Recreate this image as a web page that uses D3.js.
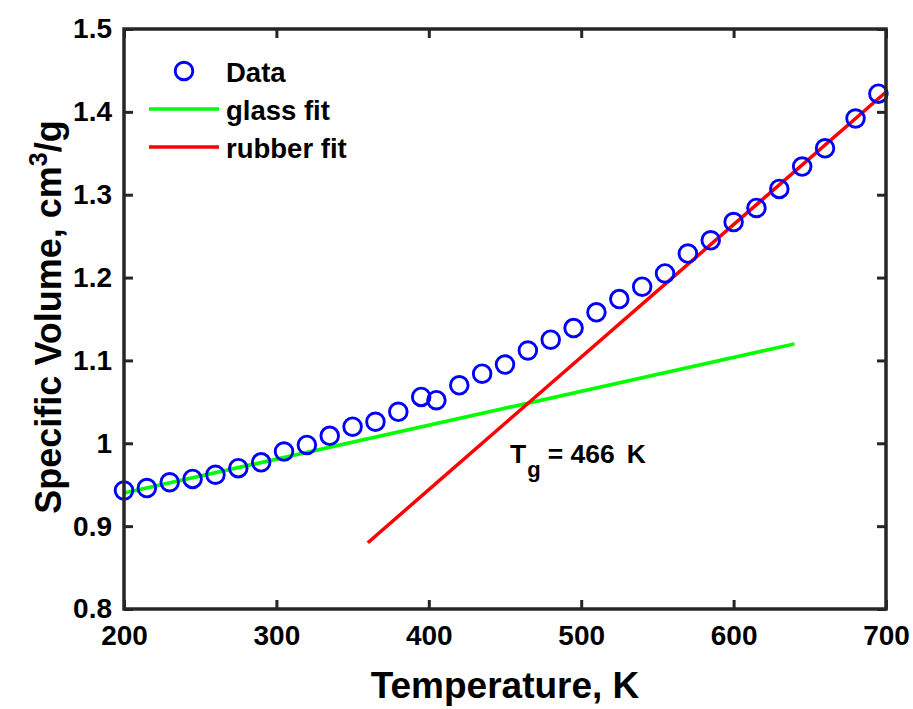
<!DOCTYPE html>
<html>
<head>
<meta charset="utf-8">
<script src="https://cdn.jsdelivr.net/npm/d3@7"></script>
<style>
  html, body { margin: 0; padding: 0; background: #fff; }
  text { font-family: "Liberation Sans", Arial, Helvetica, sans-serif; font-weight: bold; fill: #000; }
</style>
</head>
<body>
<svg id="chart" width="913" height="709"></svg>
<script>
// ---- data ----
const temperature = [200,215,230,245,260,275,290,305,320,335,350,365,380,395,405,420,435,450,465,480,495,510,525,540,555,570,585,600,615,630,645,660,680,695];
const specificVolume = [0.943,0.946,0.953,0.957,0.962,0.970,0.977,0.990,0.998,1.009,1.020,1.026,1.038,1.056,1.052,1.070,1.084,1.095,1.112,1.125,1.139,1.158,1.174,1.189,1.205,1.229,1.245,1.267,1.284,1.307,1.334,1.356,1.392,1.422];
const glassFitT = [200, 640];
const glassFitV = [0.940, 1.120];
const rubberFitT = [360, 700];
const rubberFitV = [0.880, 1.424];
const xTicks = [200, 300, 400, 500, 600, 700];
const yTicks = [0.8, 0.9, 1.0, 1.1, 1.2, 1.3, 1.4, 1.5];
const legendLabels = ["Data", "glass fit", "rubber fit"];
const tgValue = 466;

// ---- layout ----
const svg = d3.select("#chart");
const L = 124, R = 886, T = 29, B = 609;
const x = d3.scaleLinear().domain([200, 700]).range([L, R]);
const y = d3.scaleLinear().domain([0.8, 1.5]).range([B, T]);
const axisColor = "#262626";
const tickLen = 9;

// fit lines
const line = d3.line().x(d => x(d[0])).y(d => y(d[1]));
svg.append("path")
  .attr("d", line(glassFitT.map((t, i) => [t, glassFitV[i]])))
  .attr("stroke", "#00ff00").attr("stroke-width", 3.5).attr("fill", "none");
svg.append("path")
  .attr("d", line(rubberFitT.map((t, i) => [t, rubberFitV[i]])))
  .attr("stroke", "#ff0000").attr("stroke-width", 3.5).attr("fill", "none");

// data markers
svg.append("g").selectAll("circle")
  .data(temperature.map((t, i) => [t, specificVolume[i]]))
  .join("circle")
  .attr("cx", d => x(d[0])).attr("cy", d => y(d[1]))
  .attr("r", 8.8).attr("fill", "none")
  .attr("stroke", "#0000ff").attr("stroke-width", 2.9);

// axes (box with inward ticks on all sides)
const axB = d3.axisBottom(x).tickValues(xTicks).tickSizeInner(-tickLen).tickSizeOuter(0).tickPadding(16).tickFormat(d3.format("d"));
const axT = d3.axisTop(x).tickValues(xTicks).tickSizeInner(-tickLen).tickSizeOuter(0).tickFormat("");
const axL = d3.axisLeft(y).tickValues(yTicks).tickSizeInner(-tickLen).tickSizeOuter(0).tickPadding(12).tickFormat(d => d === 1 ? "1" : d3.format(".1f")(d));
const axR = d3.axisRight(y).tickValues(yTicks).tickSizeInner(-tickLen).tickSizeOuter(0).tickFormat("");

function styleAxis(g) {
  g.selectAll("path.domain").remove();
  g.selectAll(".tick line").attr("stroke", axisColor).attr("stroke-width", 3);
  g.selectAll(".tick text").attr("fill", "#000").attr("font-size", 28)
    .attr("font-family", "'Liberation Sans', Arial, sans-serif").attr("font-weight", "bold");
}
svg.append("g").attr("transform", `translate(0,${B})`).call(axB).call(styleAxis);
svg.append("g").attr("transform", `translate(0,${T})`).call(axT).call(styleAxis);
svg.append("g").attr("transform", `translate(${L},0)`).call(axL).call(styleAxis);
svg.append("g").attr("transform", `translate(${R},0)`).call(axR).call(styleAxis);

svg.append("rect").attr("x", L).attr("y", T).attr("width", R - L).attr("height", B - T)
  .attr("fill", "none").attr("stroke", axisColor).attr("stroke-width", 3.5);

// axis titles
svg.append("text").attr("x", (L + R) / 2).attr("y", 698).attr("text-anchor", "middle")
  .attr("font-size", 37).text("Temperature, K");
const yt = svg.append("text").attr("transform", `translate(61,${(T + B) / 2 - 2}) rotate(-90)`)
  .attr("text-anchor", "middle").attr("font-size", 36);
yt.append("tspan").text("Specific Volume, cm");
yt.append("tspan").attr("font-size", 25).attr("dy", -14).text("3");
yt.append("tspan").attr("dy", 14).text("/g");

// legend
const lg = svg.append("g");
lg.append("circle").attr("cx", 184).attr("cy", 71).attr("r", 8.8)
  .attr("fill", "none").attr("stroke", "#0000ff").attr("stroke-width", 2.9);
lg.append("line").attr("x1", 149).attr("x2", 219).attr("y1", 109).attr("y2", 109)
  .attr("stroke", "#00ff00").attr("stroke-width", 3.5);
lg.append("line").attr("x1", 149).attr("x2", 219).attr("y1", 147).attr("y2", 147)
  .attr("stroke", "#ff0000").attr("stroke-width", 3.5);
[82, 120, 158].forEach((by, i) => {
  lg.append("text").attr("x", 226).attr("y", by).attr("font-size", 27.5).text(legendLabels[i]);
});

// Tg annotation
const tg = svg.append("text").attr("x", 510).attr("y", 463).attr("font-size", 26.5);
tg.append("tspan").text("T");
tg.append("tspan").attr("font-size", 22).attr("dy", 14).attr("dx", 1).text("g");
tg.append("tspan").attr("dy", -14).attr("dx", 7).text("= " + tgValue);
tg.append("tspan").attr("dx", 12).text("K");
</script>
</body>
</html>
